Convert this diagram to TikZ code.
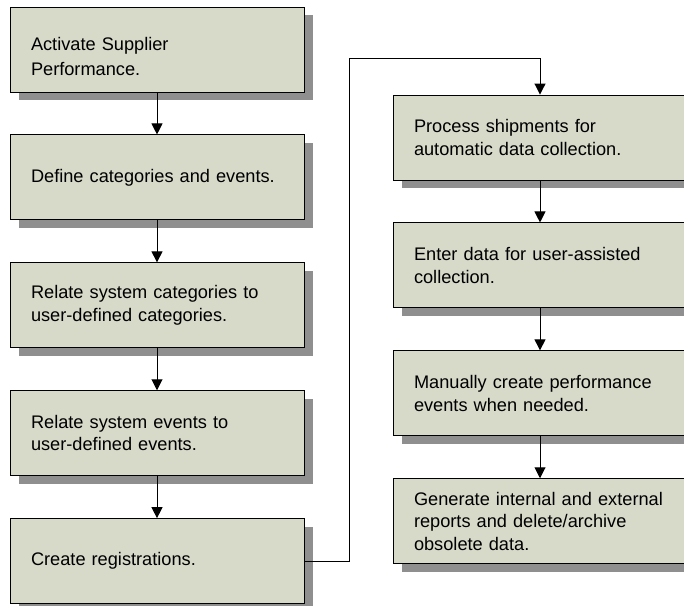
\documentclass[tikz,border=0pt]{standalone}
\usepackage{fontspec}
\setmainfont{Liberation Sans}
\usetikzlibrary{arrows.meta, positioning, shadows}
\definecolor{boxkhaki}{RGB}{215,217,201}
\definecolor{shadowgray}{RGB}{143,143,143}
\tikzstyle{task}=[rectangle, minimum width=294pt, minimum height=85pt, text width=252pt, align=left, draw=black, line width=0.9pt, fill=boxkhaki, font=\fontsize{18.2pt}{22.5pt}\selectfont, drop shadow={shadow xshift=8.5pt, shadow yshift=-8pt, fill=shadowgray, opacity=1}]
\tikzstyle{arrow}=[line width=1pt, -{Triangle[width=11pt, length=11pt]}]
\tikzstyle{link}=[line width=0.9pt]

\begin{document}
\begin{tikzpicture}[x=1pt, y=-1pt, node distance=42pt]
		\useasboundingbox (0,0) rectangle (684,605);
		\node (activate) [task] at (157,49.5) {\rule{0pt}{27pt}Activate Supplier\\[2.5pt]Performance.};
		\node (define) [task, below=of activate] {Define categories and events.};
		\node (relcat) [task, below=of define] {Relate system categories to\\user-defined categories.};
		\node (relevt) [task, below=of relcat] {Relate system events to\\user-defined events.};
		\node (register) [task, below=of relevt] {Create registrations.};

		\node (ship) [task] at (540,137.5) {Process shipments for\\automatic data collection.};
		\node (enter) [task, below=of ship] {Enter data for user-assisted\\collection.};
		\node (manual) [task, below=of enter] {Manually create performance\\events when needed.};
		\node (reports) [task, below=of manual] {Generate internal and external\\reports and delete/archive\\obsolete data.};

		\coordinate (turn) at (349,58);

		\draw [arrow] (activate) -- (define);
		\draw [arrow] (define) -- (relcat);
		\draw [arrow] (relcat) -- (relevt);
		\draw [arrow] (relevt) -- (register);
		\draw [link] (register.east) -| (turn);
		\draw [arrow] (turn) -| (ship.north);
		\draw [arrow] (ship) -- (enter);
		\draw [arrow] (enter) -- (manual);
		\draw [arrow] (manual) -- (reports);
	\end{tikzpicture}
\end{document}
